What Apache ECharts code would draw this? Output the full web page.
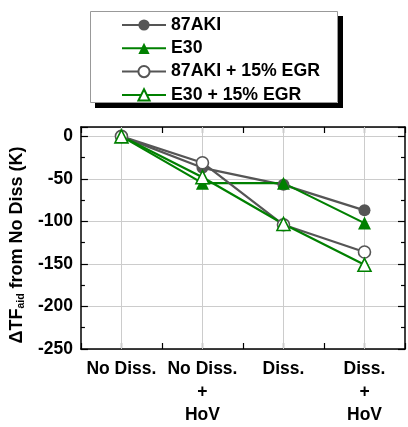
<!DOCTYPE html>
<html>
<head>
<meta charset="utf-8">
<script src="https://cdn.jsdelivr.net/npm/echarts@6/dist/echarts.min.js"></script>
<style>
  html, body { margin: 0; padding: 0; background: #fff; }
  #chart { width: 408px; height: 427px; }
</style>
</head>
<body>
<div id="chart"></div>
<script>
// Operating conditions along the x axis
const categories = ['No Diss.', 'No Diss.\n+\nHoV', 'Diss.', 'Diss.\n+\nHoV'];

// Change in auto-ignition temperature relative to No Diss (K)
const aki87 = [0, -37, -57, -87];
const e30 = [0, -55, -55, -102];
const aki87Egr = [0, -31, -104, -136];
const e30Egr = [0, -48, -103, -151];

const yTicks = { min: -250, max: 11, step: 50 };

const GRAY = '#555555';
const GREEN = '#008000';
const FONT = 'Liberation Sans, Arial, sans-serif';

const toPoints = vals => vals.map((v, i) => [i, v]);

function lineSeries(name, vals, color, symbol, filled) {
  return {
    name: name,
    type: 'line',
    data: toPoints(vals),
    symbol: symbol,
    symbolSize: symbol === 'circle' ? 12 : 13,
    lineStyle: { color: color, width: 2.2 },
    itemStyle: {
      color: filled ? color : '#ffffff',
      borderColor: color,
      borderWidth: filled ? 0 : 1.6
    },
    emphasis: { disabled: true },
    animation: false
  };
}

const series = [
  lineSeries('87AKI', aki87, GRAY, 'circle', true),
  lineSeries('E30', e30, GREEN, 'triangle', true),
  lineSeries('87AKI + 15% EGR', aki87Egr, GRAY, 'circle', false),
  lineSeries('E30 + 15% EGR', e30Egr, GREEN, 'triangle', false)
];

// vertical grid lines at each category
series[0].markLine = {
  silent: true,
  symbol: 'none',
  z: 1,
  label: { show: false },
  lineStyle: { color: '#cccccc', width: 1, type: 'solid' },
  data: categories.map((c, i) => ({ xAxis: i })),
  animation: false
};

const catLabel = v => {
  const r = Math.round(v);
  return Math.abs(v - r) < 1e-6 && r >= 0 && r < categories.length ? categories[r] : '';
};

const xCommon = {
  type: 'value',
  min: -0.5,
  max: categories.length - 0.5,
  interval: 0.5,
  axisLine: { show: true, onZero: false, lineStyle: { color: '#000', width: 1.5 } },
  axisTick: { show: true, inside: true, length: 6, lineStyle: { color: '#000', width: 1.2 } },
  splitLine: { show: false }
};

const yCommon = {
  type: 'value',
  min: yTicks.min,
  max: yTicks.max,
  interval: yTicks.step,
  axisLine: { show: true, onZero: false, lineStyle: { color: '#000', width: 1.5 } },
  axisTick: { show: true, inside: true, length: 7, lineStyle: { color: '#000', width: 1.2 } },
  minorTick: { show: true, splitNumber: 2, length: 4, lineStyle: { color: '#000', width: 1.2 } }
};

// legend frame with a solid drop shadow along the right and bottom edges
const legendBox = { x: 90, y: 11, w: 248, h: 92, shadow: 5 };
const bx = legendBox.x, by = legendBox.y, bw = legendBox.w, bh = legendBox.h, sh = legendBox.shadow;

const option = {
  backgroundColor: '#ffffff',
  animation: false,
  grid: { left: 79, right: -1, top: 127, bottom: 67, containLabel: false },
  graphic: {
    elements: [
      {
        type: 'rect', id: 'legendFrame', z: 2, silent: true,
        shape: { x: bx + 0.5, y: by + 0.5, width: bw - 1, height: bh - 1 },
        style: { fill: '#ffffff', stroke: '#999999', lineWidth: 1 }
      },
      {
        type: 'rect', id: 'legendShadowBottom', zlevel: 1, silent: true,
        shape: { x: bx + sh, y: by + bh, width: bw, height: sh },
        style: { fill: '#000000' }
      },
      {
        type: 'rect', id: 'legendShadowSide', zlevel: 1, silent: true,
        shape: { x: bx + bw, y: by + sh, width: sh, height: bh },
        style: { fill: '#000000' }
      }
    ]
  },
  legend: {
    z: 10,
    left: bx,
    top: by,
    orient: 'vertical',
    backgroundColor: 'transparent',
    borderWidth: 0,
    padding: [5, 10, 0, 31],
    itemWidth: 44,
    itemHeight: 14,
    itemGap: 5.3,
    textStyle: { fontFamily: FONT, fontSize: 17.7, fontWeight: 'bold', color: '#000' },
    data: series.map(s => s.name)
  },
  xAxis: [
    Object.assign({}, xCommon, {
      position: 'bottom',
      axisLabel: {
        show: true,
        formatter: catLabel,
        margin: 9,
        fontFamily: FONT,
        fontSize: 17.5,
        fontWeight: 'bold',
        color: '#000',
        lineHeight: 23,
        showMinLabel: true,
        showMaxLabel: true
      }
    }),
    Object.assign({}, xCommon, {
      position: 'top',
      axisLabel: { show: false }
    })
  ],
  yAxis: [
    Object.assign({}, yCommon, {
      position: 'left',
      name: '{m|ΔTF}{s|aid}{m| from No Diss (K)}',
      nameLocation: 'middle',
      nameRotate: 90,
      nameGap: 45,
      nameTextStyle: {
        fontFamily: FONT,
        fontWeight: 'bold',
        color: '#000',
        padding: [0, 14, 0, 0],
        rich: {
          m: { fontFamily: FONT, fontSize: 18, fontWeight: 'bold', color: '#000' },
          s: { fontFamily: FONT, fontSize: 10.5, fontWeight: 'bold', color: '#000', verticalAlign: 'bottom', padding: [9, 0, 0, 0] }
        }
      },
      axisLabel: {
        show: true,
        margin: 8,
        fontFamily: FONT,
        fontSize: 17.5,
        fontWeight: 'bold',
        color: '#000',
        showMaxLabel: false
      },
      splitLine: { show: true, lineStyle: { color: '#cccccc', width: 1 } }
    }),
    Object.assign({}, yCommon, {
      position: 'right',
      axisLabel: { show: false },
      splitLine: { show: false }
    })
  ],
  series: series
};

const chart = echarts.init(document.getElementById('chart'), null, { renderer: 'canvas' });
chart.setOption(option);
</script>
</body>
</html>
